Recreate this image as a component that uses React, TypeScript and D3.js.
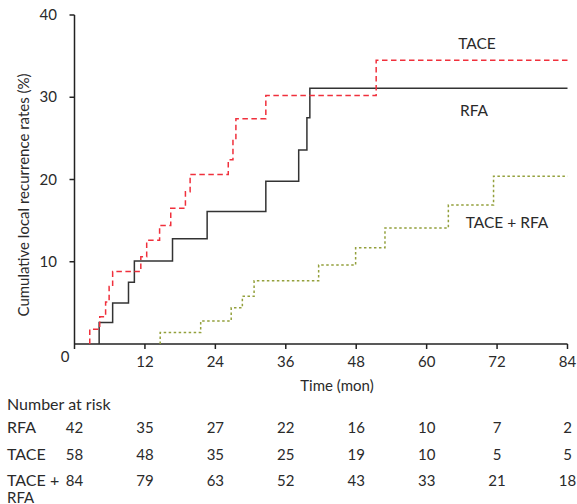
import React from "react";
import * as d3 from "d3";

const xTicks = [12, 24, 36, 48, 60, 72, 84];
const yTicks = [10, 20, 30, 40];

const rfaTimes = [4.2, 4.2, 6.5, 9.2, 10.2, 16.7, 22.6, 32.6, 38.2, 39.6, 40.1, 84];
const rfaRates = [0, 2.6, 5.0, 7.5, 10.1, 12.8, 16.1, 19.8, 23.6, 27.5, 31.1, 31.1];

const taceTimes = [2.6, 2.6, 4.3, 5.3, 5.9, 6.5, 11.3, 12.3, 14.5, 16.4, 18.9, 19.7, 26.2, 27.0, 27.5, 32.6, 51.4, 84];
const taceRates = [0, 1.8, 3.3, 5.1, 7.0, 8.8, 10.6, 12.6, 14.4, 16.5, 18.5, 20.6, 22.4, 25.0, 27.4, 30.2, 34.5, 34.5];

const comboTimes = [14.6, 14.6, 21.5, 26.7, 28.6, 30.6, 41.6, 47.9, 52.9, 63.7, 71.4, 84];
const comboRates = [0, 1.4, 2.8, 4.4, 5.8, 7.7, 9.6, 11.7, 14.1, 16.9, 20.4, 20.4];

const riskTimes = [0, 12, 24, 36, 48, 60, 72, 84];
const riskRFA = [42, 35, 27, 22, 16, 10, 7, 2];
const riskTACE = [58, 48, 35, 25, 19, 10, 5, 5];
const riskCombo = [84, 79, 63, 52, 43, 33, 21, 18];

const FONT = "Lato, 'Open Sans', sans-serif";
const TXT = "#2a2a2a";

export default function App() {
  const x = d3.scaleLinear().domain([0, 84]).range([74.5, 567.5]);
  const y = d3.scaleLinear().domain([0, 40]).range([344, 15]);
  const line = d3
    .line<[number, number]>()
    .x((d) => x(d[0]))
    .y((d) => y(d[1]))
    .curve(d3.curveStepAfter);
  const pts = (t: number[], r: number[]) => t.map((v, i) => [v, r[i]] as [number, number]);

  const rows = [
    { label: ["RFA"], vals: riskRFA, y: 433 },
    { label: ["TACE"], vals: riskTACE, y: 460 },
    { label: ["TACE +", "RFA"], vals: riskCombo, y: 486 },
  ];

  return (
    <svg
      width={577}
      height={504}
      style={{ position: "absolute", left: 0, top: 0, background: "#fff" }}
      fontFamily={FONT}
    >
      <g fill={TXT} fontSize={15}>
        {/* axes */}
        <line x1={x(0)} x2={x(84)} y1={y(0)} y2={y(0)} stroke="#222" strokeWidth={1.5} />
        <line x1={x(0)} x2={x(0)} y1={y(0)} y2={y(40)} stroke="#222" strokeWidth={1.5} />
        {[0, ...xTicks].map((t) => (
          <line key={"xt" + t} x1={x(t)} x2={x(t)} y1={y(0)} y2={y(0) + 5} stroke="#222" strokeWidth={1.5} />
        ))}
        {xTicks.map((t) => (
          <text key={"xl" + t} x={x(t)} y={367} textAnchor="middle">
            {t}
          </text>
        ))}
        <text x={65} y={362} textAnchor="middle">0</text>
        {yTicks.map((t) => (
          <g key={"y" + t}>
            <line x1={x(0) - 5} x2={x(0)} y1={y(t)} y2={y(t)} stroke="#222" strokeWidth={1.5} />
            <text x={57} y={y(t) + 5} textAnchor="end">
              {t}
            </text>
          </g>
        ))}
        <text transform="translate(28.5,195) rotate(-90)" textAnchor="middle">
          Cumulative local recurrence rates (%)
        </text>
        <text x={337} y={391} textAnchor="middle">Time (mon)</text>

        {/* curves */}
        <path d={line(pts(comboTimes, comboRates)) || ""} fill="none" stroke="#93a03c" strokeWidth={1.5} strokeDasharray="2.5,2.5" />
        <path d={line(pts(rfaTimes, rfaRates)) || ""} fill="none" stroke="#333" strokeWidth={1.5} />
        <path d={line(pts(taceTimes, taceRates)) || ""} fill="none" stroke="#f0303c" strokeWidth={1.5} strokeDasharray="5.5,3.5" />

        {/* curve labels */}
        <g fontSize={15.5}>
          <text x={477} y={49} textAnchor="middle">TACE</text>
          <text x={474} y={116} textAnchor="middle">RFA</text>
          <text x={507} y={228} textAnchor="middle">TACE + RFA</text>
        </g>

        {/* risk table */}
        <g fontSize={16}>
          <text x={7} y={410}>Number at risk</text>
          {rows.map((r) => (
            <g key={r.label.join("")}>
              {r.label.map((l, i) => (
                <text key={l} x={7} y={r.y + i * 17} fontSize={i > 0 ? 15 : 16}>
                  {l}
                </text>
              ))}
              {r.vals.map((v, i) => (
                <text key={i} x={x(riskTimes[i])} y={r.y} textAnchor="middle" fontSize={15}>
                  {v}
                </text>
              ))}
            </g>
          ))}
        </g>
      </g>
    </svg>
  );
}
